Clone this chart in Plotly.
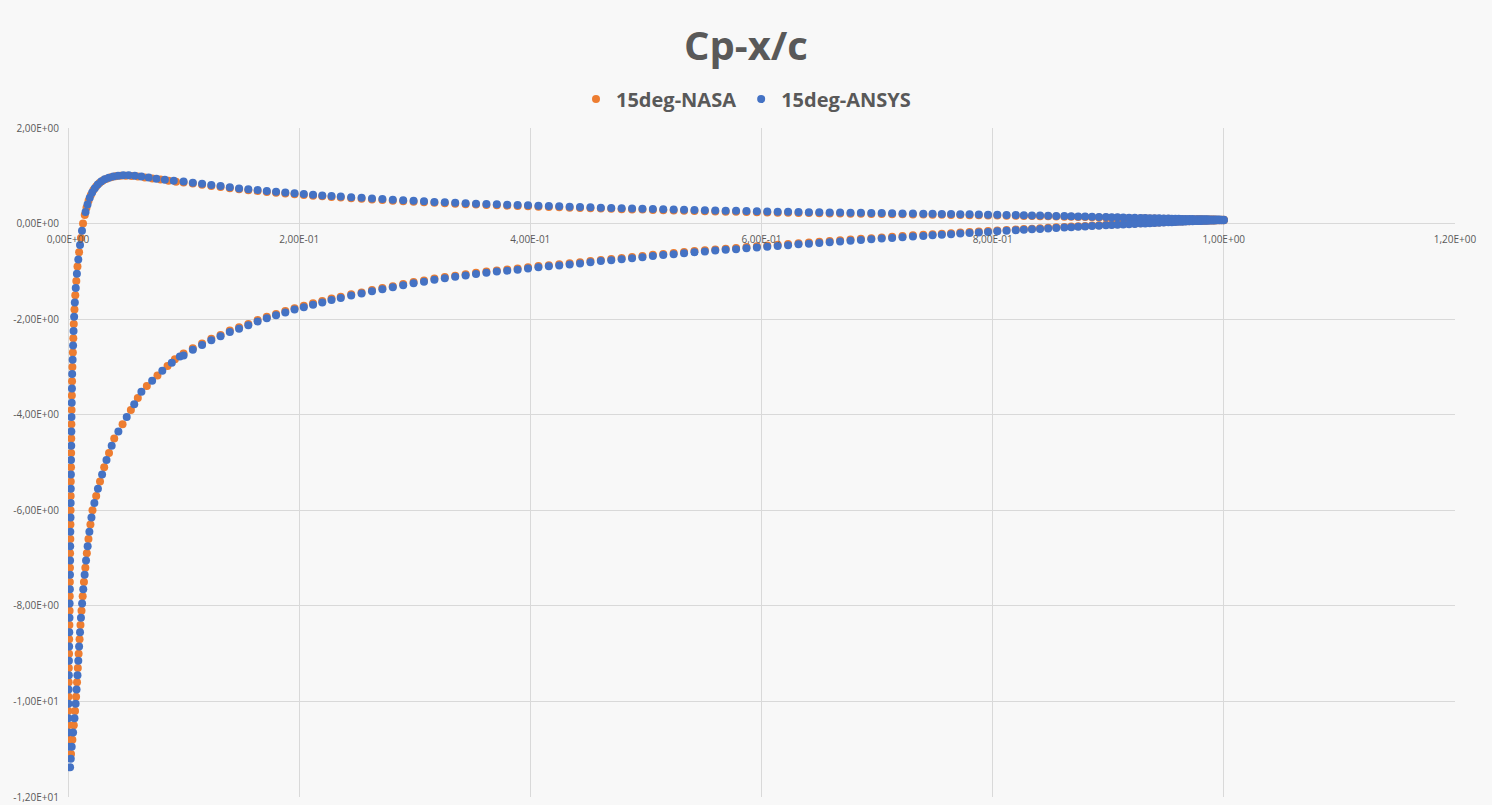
import plotly.graph_objects as go

# ---------------- data ----------------
# Pressure side near the leading edge (from the nose, Cp falling to the stagnation peak)
x_le_pressure_nasa = [0.0000, 0.0002, 0.0003, 0.0004, 0.0006, 0.0007, 0.0009, 0.0010, 0.0012, 0.0014,
                      0.0015, 0.0016, 0.0017, 0.0018, 0.0020, 0.0021, 0.0022, 0.0023, 0.0024, 0.0026,
                      0.0027, 0.0028, 0.0029, 0.0031, 0.0033, 0.0035, 0.0038, 0.0042, 0.0046, 0.0050,
                      0.0056, 0.0063, 0.0072, 0.0082, 0.0096, 0.0112, 0.0130,
                      0.0145, 0.0160, 0.0178, 0.0198, 0.0220, 0.0245, 0.0272, 0.0302, 0.0335, 0.0372,
                      0.0412, 0.0455, 0.0500, 0.0550, 0.0605, 0.0665, 0.0730, 0.0800, 0.0870, 0.0935]
cp_le_pressure_nasa = [-10.8, -10.5, -10.2, -9.9, -9.6, -9.3, -9.0, -8.7, -8.4, -8.1,
                       -7.8, -7.5, -7.2, -6.9, -6.6, -6.3, -6.0, -5.7, -5.4, -5.1,
                       -4.8, -4.5, -4.2, -3.9, -3.6, -3.3, -3.0, -2.7, -2.4, -2.1,
                       -1.8, -1.5, -1.2, -0.9, -0.6, -0.3, 0.0,
                       0.18, 0.33, 0.48, 0.60, 0.70, 0.78, 0.85, 0.90, 0.94, 0.97,
                       0.99, 1.00, 1.00, 0.995, 0.985, 0.965, 0.945, 0.92, 0.895, 0.875]

x_le_pressure_ansys = [0.0000, 0.0001, 0.0002, 0.0004, 0.0005, 0.0007, 0.0008, 0.0010, 0.0011, 0.0013,
                       0.0014, 0.0016, 0.0017, 0.0018, 0.0019, 0.0020, 0.0022, 0.0023, 0.0024, 0.0025,
                       0.0026, 0.0028, 0.0029, 0.0030, 0.0032, 0.0034, 0.0036, 0.0040, 0.0044, 0.0048,
                       0.0053, 0.0059, 0.0067, 0.0077, 0.0089, 0.0104, 0.0121,
                       0.0152, 0.0169, 0.0188, 0.0209, 0.0232, 0.0258, 0.0287, 0.0318, 0.0353, 0.0392,
                       0.0433, 0.0478, 0.0525, 0.0578, 0.0635, 0.0698, 0.0765, 0.0838, 0.0915]
cp_le_pressure_ansys = [-10.95, -10.65, -10.35, -10.05, -9.75, -9.45, -9.15, -8.85, -8.55, -8.25,
                        -7.95, -7.65, -7.35, -7.05, -6.75, -6.45, -6.15, -5.85, -5.55, -5.25,
                        -4.95, -4.65, -4.35, -4.05, -3.75, -3.45, -3.15, -2.85, -2.55, -2.25,
                        -1.95, -1.65, -1.35, -1.05, -0.75, -0.45, -0.15,
                        0.24, 0.40, 0.54, 0.65, 0.74, 0.82, 0.88, 0.925, 0.96, 0.985,
                        1.00, 1.01, 1.01, 1.00, 0.985, 0.965, 0.94, 0.915, 0.895]

# Suction side near the leading edge (from the suction peak)
x_le_suction_nasa = [0.0026, 0.0038, 0.0050, 0.0061, 0.0070, 0.0078, 0.0085, 0.0092, 0.0100, 0.0108,
                     0.0117, 0.0127, 0.0138, 0.0150, 0.0163, 0.0177, 0.0194, 0.0212, 0.0244, 0.0277,
                     0.0313, 0.0355, 0.0400, 0.0472, 0.0544, 0.0604, 0.0682, 0.0774, 0.0861, 0.0925]
cp_le_suction_nasa = [-11.10, -10.80, -10.50, -10.20, -9.90, -9.60, -9.30, -9.00, -8.70, -8.40,
                      -8.10, -7.80, -7.50, -7.20, -6.90, -6.60, -6.30, -6.00, -5.70, -5.40,
                      -5.10, -4.80, -4.50, -4.20, -3.90, -3.65, -3.40, -3.18, -2.98, -2.84]

x_le_suction_ansys = [0.0018, 0.0024, 0.0032, 0.0044, 0.0056, 0.0066, 0.0074, 0.0082, 0.0089, 0.0096,
                      0.0104, 0.0112, 0.0122, 0.0132, 0.0144, 0.0156, 0.0170, 0.0185, 0.0203, 0.0228,
                      0.0259, 0.0295, 0.0333, 0.0378, 0.0436, 0.0508, 0.0573, 0.0635, 0.0728, 0.0816,
                      0.0898, 0.0968]
cp_le_suction_ansys = [-11.38, -11.20, -10.95, -10.65, -10.35, -10.05, -9.75, -9.45, -9.15, -8.85,
                       -8.55, -8.25, -7.95, -7.65, -7.35, -7.05, -6.75, -6.45, -6.15, -5.85,
                       -5.55, -5.25, -4.95, -4.65, -4.35, -4.05, -3.78, -3.52, -3.29, -3.08,
                       -2.91, -2.78]

# Chordwise stations from x/c = 0.1 to the trailing edge (both surfaces)
x_chord = [0.100, 0.108, 0.116, 0.124, 0.132, 0.140, 0.148, 0.156, 0.164, 0.172,
           0.180, 0.188, 0.196, 0.204, 0.212, 0.220, 0.228, 0.236,
           0.245, 0.254, 0.263, 0.272, 0.281, 0.290, 0.299, 0.308, 0.317, 0.326,
           0.335, 0.344, 0.353, 0.362, 0.371, 0.380, 0.389, 0.398, 0.407, 0.416,
           0.425, 0.434, 0.443, 0.452, 0.461, 0.470, 0.479, 0.488, 0.497, 0.506,
           0.515, 0.524, 0.533, 0.542, 0.551, 0.560, 0.569, 0.578, 0.587, 0.596,
           0.605, 0.614, 0.623, 0.632, 0.641, 0.650, 0.659, 0.668, 0.677, 0.686,
           0.695, 0.704, 0.713, 0.722, 0.731, 0.740,
           0.748, 0.756, 0.764, 0.772, 0.780, 0.788, 0.796, 0.804, 0.812, 0.820,
           0.827, 0.834, 0.841, 0.848, 0.855, 0.862,
           0.868, 0.874, 0.880, 0.886, 0.892, 0.898,
           0.903, 0.908, 0.913, 0.918, 0.923, 0.928,
           0.932, 0.936, 0.940, 0.944, 0.948, 0.952,
           0.955, 0.958, 0.961, 0.964, 0.967, 0.970, 0.973, 0.976,
           0.978, 0.980, 0.982, 0.984, 0.986, 0.988, 0.990, 0.992, 0.994, 0.996, 0.998, 1.000]

cp_pressure_nasa = [0.860, 0.836, 0.812, 0.788, 0.764, 0.740, 0.716, 0.698, 0.680, 0.661,
                    0.645, 0.629, 0.613, 0.598, 0.584, 0.570, 0.558, 0.546,
                    0.532, 0.519, 0.505, 0.492, 0.479, 0.467, 0.456, 0.445, 0.434, 0.424,
                    0.415, 0.406, 0.397, 0.388, 0.382, 0.375, 0.368, 0.361, 0.354, 0.347,
                    0.340, 0.333, 0.326, 0.319, 0.313, 0.308, 0.302, 0.297, 0.292, 0.286,
                    0.281, 0.276, 0.270, 0.265, 0.260, 0.255, 0.250, 0.246, 0.241, 0.237,
                    0.233, 0.229, 0.226, 0.222, 0.219, 0.215, 0.212, 0.210, 0.207, 0.204,
                    0.202, 0.199, 0.196, 0.193, 0.190, 0.188,
                    0.186, 0.183, 0.181, 0.179, 0.176, 0.174, 0.171, 0.168, 0.165, 0.162,
                    0.159, 0.156, 0.154, 0.151, 0.148, 0.144,
                    0.141, 0.138, 0.135, 0.132, 0.129, 0.126,
                    0.123, 0.121, 0.118, 0.116, 0.113, 0.111,
                    0.109, 0.107, 0.105, 0.103, 0.101, 0.099,
                    0.098, 0.097, 0.095, 0.094, 0.093, 0.092, 0.091, 0.089,
                    0.089, 0.088, 0.087, 0.086, 0.085, 0.084, 0.084, 0.083, 0.082, 0.081, 0.081, 0.080]

cp_pressure_ansys = [0.880, 0.856, 0.832, 0.808, 0.784, 0.760, 0.736, 0.718, 0.700, 0.681,
                     0.665, 0.649, 0.633, 0.618, 0.604, 0.590, 0.578, 0.566,
                     0.552, 0.539, 0.525, 0.512, 0.499, 0.487, 0.476, 0.465, 0.454, 0.444,
                     0.435, 0.426, 0.417, 0.408, 0.402, 0.395, 0.388, 0.381, 0.374, 0.367,
                     0.360, 0.353, 0.346, 0.339, 0.333, 0.328, 0.322, 0.317, 0.312, 0.306,
                     0.301, 0.296, 0.290, 0.285, 0.280, 0.275, 0.270, 0.266, 0.261, 0.257,
                     0.253, 0.249, 0.246, 0.242, 0.239, 0.235, 0.232, 0.230, 0.227, 0.224,
                     0.222, 0.219, 0.216, 0.213, 0.210, 0.208,
                     0.205, 0.202, 0.199, 0.196, 0.193, 0.190, 0.187, 0.184, 0.181, 0.178,
                     0.175, 0.171, 0.168, 0.165, 0.161, 0.157,
                     0.153, 0.150, 0.146, 0.143, 0.139, 0.136,
                     0.133, 0.130, 0.127, 0.124, 0.121, 0.118,
                     0.116, 0.113, 0.111, 0.109, 0.106, 0.104,
                     0.103, 0.101, 0.100, 0.098, 0.097, 0.095, 0.094, 0.092,
                     0.092, 0.091, 0.090, 0.089, 0.088, 0.087, 0.086, 0.085, 0.084, 0.083, 0.082, 0.081]

cp_suction_nasa = [-2.72, -2.61, -2.51, -2.41, -2.33, -2.24, -2.17, -2.10, -2.02, -1.95,
                   -1.89, -1.83, -1.77, -1.72, -1.67, -1.62, -1.57, -1.53,
                   -1.48, -1.44, -1.39, -1.35, -1.31, -1.265, -1.225, -1.19, -1.15, -1.12,
                   -1.09, -1.06, -1.03, -1.005, -0.98, -0.96, -0.94, -0.915, -0.89, -0.87,
                   -0.85, -0.83, -0.81, -0.785, -0.76, -0.74, -0.72, -0.70, -0.68, -0.655,
                   -0.635, -0.615, -0.595, -0.575, -0.56, -0.54, -0.525, -0.51, -0.49, -0.475,
                   -0.46, -0.445, -0.43, -0.41, -0.395, -0.38, -0.365, -0.35, -0.335, -0.32,
                   -0.305, -0.29, -0.275, -0.26, -0.245, -0.235,
                   -0.223, -0.211, -0.200, -0.189, -0.178, -0.167, -0.156, -0.145, -0.135, -0.124,
                   -0.115, -0.106, -0.097, -0.088, -0.079, -0.071,
                   -0.063, -0.056, -0.049, -0.042, -0.035, -0.027,
                   -0.022, -0.016, -0.010, -0.005, 0.000, 0.006,
                   0.010, 0.015, 0.019, 0.023, 0.028, 0.032,
                   0.035, 0.038, 0.041, 0.044, 0.047, 0.050, 0.052, 0.055,
                   0.057, 0.058, 0.060, 0.061, 0.062, 0.064, 0.065, 0.066, 0.067, 0.068, 0.069, 0.070]

cp_suction_ansys = [-2.76, -2.64, -2.54, -2.44, -2.36, -2.27, -2.20, -2.13, -2.05, -1.98,
                    -1.92, -1.86, -1.80, -1.75, -1.70, -1.65, -1.60, -1.555,
                    -1.505, -1.465, -1.415, -1.375, -1.335, -1.29, -1.25, -1.215, -1.175, -1.145,
                    -1.115, -1.085, -1.055, -1.03, -1.005, -0.985, -0.965, -0.94, -0.915, -0.895,
                    -0.875, -0.855, -0.835, -0.81, -0.785, -0.765, -0.745, -0.725, -0.705, -0.68,
                    -0.66, -0.64, -0.62, -0.60, -0.585, -0.565, -0.55, -0.535, -0.515, -0.50,
                    -0.485, -0.47, -0.455, -0.435, -0.42, -0.405, -0.39, -0.375, -0.36, -0.345,
                    -0.33, -0.315, -0.30, -0.285, -0.27, -0.258,
                    -0.245, -0.233, -0.221, -0.209, -0.197, -0.186, -0.174, -0.163, -0.152, -0.141,
                    -0.131, -0.121, -0.112, -0.102, -0.093, -0.084,
                    -0.076, -0.068, -0.060, -0.053, -0.045, -0.037,
                    -0.031, -0.025, -0.018, -0.012, -0.007, -0.001,
                    0.004, 0.009, 0.013, 0.018, 0.022, 0.027,
                    0.030, 0.034, 0.037, 0.040, 0.043, 0.046, 0.049, 0.052,
                    0.054, 0.056, 0.058, 0.060, 0.061, 0.063, 0.064, 0.066, 0.067, 0.069, 0.070, 0.072]

# Axis ticks (comma decimal separator, scientific notation)
x_tick_vals = [0.0, 0.2, 0.4, 0.6, 0.8, 1.0, 1.2]
x_tick_text = ["0,00E+00", "2,00E-01", "4,00E-01", "6,00E-01", "8,00E-01", "1,00E+00", "1,20E+00"]
y_tick_vals = [2, 0, -2, -4, -6, -8, -10, -12]
y_tick_text = ["2,00E+00", "0,00E+00", "-2,00E+00", "-4,00E+00", "-6,00E+00",
               "-8,00E+00", "-1,00E+01", "-1,20E+01"]

for a, b in [(x_le_pressure_nasa, cp_le_pressure_nasa), (x_le_pressure_ansys, cp_le_pressure_ansys),
             (x_le_suction_nasa, cp_le_suction_nasa), (x_le_suction_ansys, cp_le_suction_ansys),
             (x_chord, cp_pressure_nasa), (x_chord, cp_pressure_ansys),
             (x_chord, cp_suction_nasa), (x_chord, cp_suction_ansys)]:
    assert len(a) == len(b), (len(a), len(b))

# ---------------- figure ----------------
ORANGE = "#ED7D31"
BLUE = "#4472C4"
TEXT = "#595959"
GRID = "#d9d9d9"

nasa_x = x_le_pressure_nasa + x_chord + x_le_suction_nasa + x_chord
nasa_y = cp_le_pressure_nasa + cp_pressure_nasa + cp_le_suction_nasa + cp_suction_nasa
ansys_x = x_le_pressure_ansys + x_chord + x_le_suction_ansys + x_chord
ansys_y = cp_le_pressure_ansys + cp_pressure_ansys + cp_le_suction_ansys + cp_suction_ansys

fig = go.Figure()
fig.add_trace(go.Scatter(x=nasa_x, y=nasa_y, mode="markers", name="15deg-NASA",
                         marker=dict(color=ORANGE, size=8, line=dict(width=0))))
fig.add_trace(go.Scatter(x=ansys_x, y=ansys_y, mode="markers", name="15deg-ANSYS",
                         marker=dict(color=BLUE, size=8, line=dict(width=0))))

fig.update_layout(
    width=1492, height=805, autosize=False,
    margin=dict(l=68, r=37, t=128, b=8, autoexpand=False),
    paper_bgcolor="#f8f8f8",
    plot_bgcolor="rgba(0,0,0,0)",
    font=dict(family="Open Sans, sans-serif", color=TEXT),
    title=dict(text="<b>Cp-x/c</b>", x=0.5, xanchor="center", y=0.943, yanchor="middle",
               font=dict(size=40, color=TEXT, family="Open Sans, sans-serif")),
    legend=dict(orientation="h", x=0.5, xanchor="center", xref="container",
                y=0.877, yanchor="middle", yref="container",
                font=dict(size=20, color=TEXT, family="Open Sans, sans-serif", weight="bold"),
                bgcolor="rgba(0,0,0,0)", itemwidth=30, traceorder="normal"),
    showlegend=True,
)

fig.update_xaxes(
    range=[0, 1.2], tickvals=x_tick_vals, ticktext=x_tick_text,
    anchor="free", position=12 / 14, automargin=False,
    showgrid=True, gridcolor=GRID, gridwidth=1,
    zeroline=True, zerolinecolor=GRID, zerolinewidth=1,
    showline=False, ticks="outside", ticklen=6, tickcolor="rgba(0,0,0,0)",
    tickfont=dict(size=10, color=TEXT),
)
fig.update_yaxes(
    range=[-12, 2], tickvals=y_tick_vals, ticktext=y_tick_text, automargin=False,
    showgrid=True, gridcolor=GRID, gridwidth=1,
    zeroline=True, zerolinecolor=GRID, zerolinewidth=1,
    showline=False, ticks="outside", ticklen=6, tickcolor="rgba(0,0,0,0)",
    tickfont=dict(size=10, color=TEXT),
)

fig.write_html("out.html")
